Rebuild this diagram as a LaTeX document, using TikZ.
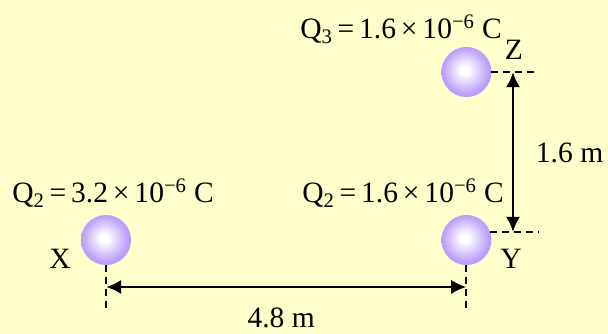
\documentclass[tikz,border=0pt]{standalone}
\usepackage{fontspec}
\setmainfont{Liberation Serif}
\usepackage{xcolor}
\usetikzlibrary{arrows.meta,positioning}
\definecolor{paperyellow}{RGB}{255,255,204}
\definecolor{ballpurple}{RGB}{150,100,250}
\pgfdeclareradialshading{chargeball}{\pgfpoint{-2bp}{2bp}}{color(0bp)=(white); color(4bp)=(white); color(22bp)=(ballpurple!60!white); color(42bp)=(ballpurple); color(50bp)=(ballpurple)}
\newcommand{\charge}[3]{Q\textsubscript{#1}\,=\,#2\,×\,10\textsuperscript{−#3}~C}

\begin{document}
\begin{tikzpicture}[every node/.style={font=\fontsize{21}{24}\selectfont},
        ball/.style={circle,shading=chargeball,minimum size=1.25cm,inner sep=0pt},
        lbl/.style={anchor=base,inner sep=0pt},
        qlbl/.style={anchor=base west,inner sep=0pt},
        dimline/.style={line width=1.4pt,dash pattern=on 5pt off 3.5pt},
        arrow/.style={{Latex[length=3.8mm,width=3.6mm]}-{Latex[length=3.8mm,width=3.6mm]},line width=2.1pt}]
        \fill[paperyellow] (0,0) rectangle (15.2,8.35);
        \useasboundingbox (0,0) rectangle (15.2,8.35);
        % the three charges
        \node[ball] (ballX) at (2.65,2.35) {};
        \node[ball] (ballY) at (11.66,2.35) {};
        \node[ball] (ballZ) at (11.66,6.55) {};
        \node[qlbl] (qX) at (0.3,3.275) {\charge{2}{3.2}{6}};
        \node[qlbl] (qY) at (7.55,3.275) {\charge{2}{1.6}{6}};
        \node[qlbl] (qZ) at (7.5,7.375) {\charge{3}{1.6}{6}};
        \node[lbl] (nameX) at (1.5,1.625) {X};
        \node[lbl] (nameY) at (12.775,1.625) {Y};
        \node[lbl] (nameZ) at (12.85,6.85) {Z};
        % dimension helpers
        \coordinate (xFoot) at (2.65,0.55);
        \coordinate (yFoot) at (11.66,0.55);
        \coordinate (xArr) at (2.65,1.175);
        \coordinate (yArr) at (11.66,1.175);
        \coordinate (zDash) at (12.27,6.55);
        \coordinate (zEnd) at (13.45,6.55);
        \coordinate (yDash) at (12.25,2.55);
        \coordinate (yEnd) at (13.45,2.55);
        \coordinate (zTop) at (12.825,6.55);
        \coordinate (yBot) at (12.825,2.55);
        \draw[dimline] (ballX.south) -- (xFoot);
        \draw[dimline] (ballY.south) -- (yFoot);
        \draw[dimline] (zDash) -- (zEnd);
        \draw[dimline] (yDash) -- (yEnd);
        \draw[arrow] (xArr) -- (yArr);
        \draw[arrow] (zTop) -- (yBot);
        \node[lbl] (lenXY) at (7.03,0.16) {4.8 m};
        \node[lbl] (lenYZ) at (14.24,4.275) {1.6 m};
      \end{tikzpicture}
\end{document}
